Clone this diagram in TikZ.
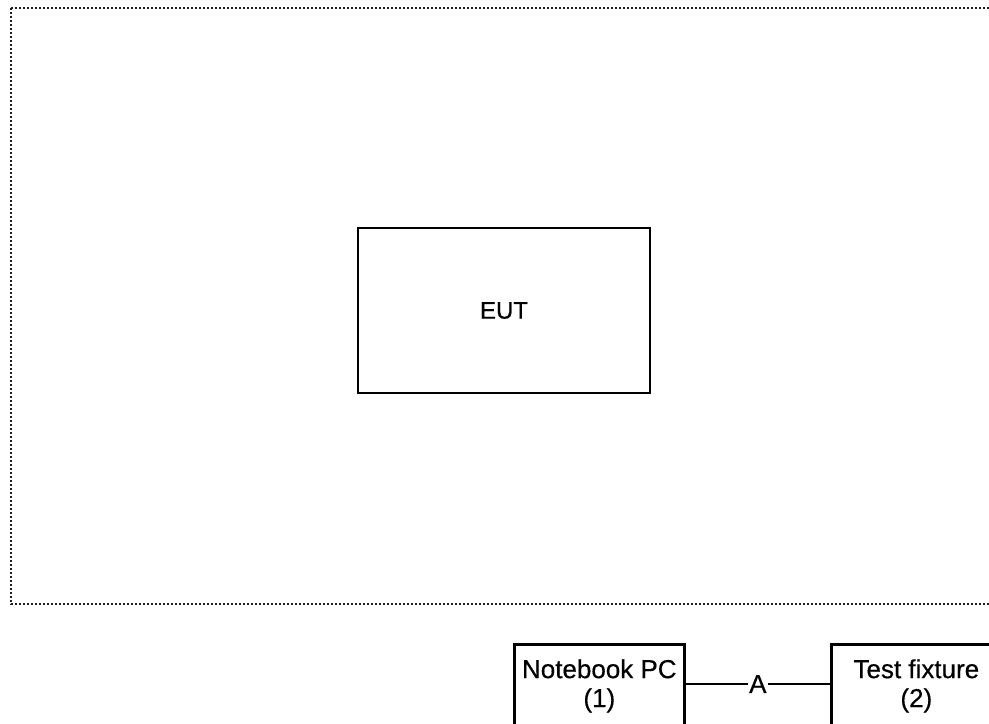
\documentclass[tikz,border=0pt]{standalone}
\usepackage{fontspec}
\setmainfont{Liberation Sans}
\newfontfamily\labelfont{Liberation Sans}[FakeBold=0.4]
\usepackage{tikz}
\usetikzlibrary{positioning, calc}
\usepackage{xcolor}
\definecolor{framegray}{RGB}{30, 30, 30}

\begin{document}
\begin{tikzpicture}[x=0.75pt, y=-0.75pt,
    every node/.style={font=\labelfont\fontsize{19.5}{21.75}\selectfont},
    unitbox/.style={draw=black, line width=2pt, fill=white, inner sep=0pt},
    boxtext/.style={align=center, inner sep=0pt, anchor=north}]
        \useasboundingbox (0,0) rectangle (989,724);
        \clip (0,0) rectangle (989,724);
        % Dotted test area
        \draw[framegray, line width=2pt, dash pattern=on 1.7pt off 1.3pt]
          (11,8) rectangle (1010,604);
        % EUT
        \node[unitbox, minimum width=219pt, minimum height=123.75pt] (eut) at (504,310.5)
          {\fontsize{18}{20}\selectfont EUT};
        % Support units
        \node[unitbox, minimum width=127.5pt, minimum height=120pt, anchor=north west]
          (pc) at (513,643) {};
        \node[unitbox, minimum width=127.5pt, minimum height=120pt, anchor=north west]
          (fixture) at (830,643) {};
        \node[boxtext] (pclabel) at ($(pc.north)+(0,16)$) {Notebook PC\\(1)};
        \node[boxtext] (fixturelabel) at ($(fixture.north)+(0,16)$) {Test fixture\\(2)};
        % Cable A
        \coordinate (cableA) at (756,684);
        \draw[line width=2pt] (pc.east |- cableA) -- node[fill=white, inner sep=1pt] (labelA) {A}
          (fixture.west |- cableA);
      \end{tikzpicture}
\end{document}
